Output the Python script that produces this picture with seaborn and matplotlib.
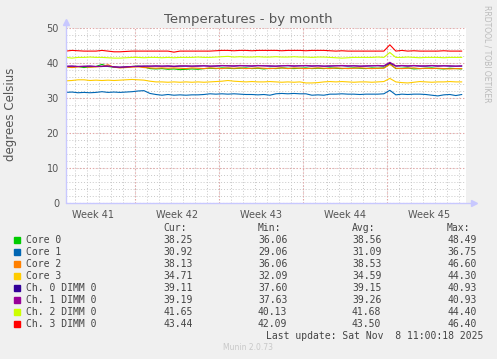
import numpy as np
import pandas as pd
import matplotlib
matplotlib.use("Agg")
import matplotlib.pyplot as plt
import seaborn as sns

# ---------------- data ----------------
series_names = ["Core 0", "Core 1", "Core 2", "Core 3",
                "Ch. 0 DIMM 0", "Ch. 1 DIMM 0", "Ch. 2 DIMM 0", "Ch. 3 DIMM 0"]
series_colors = ["#00CC00", "#0066B3", "#FF8000", "#FFCC00",
                 "#330099", "#990099", "#CCFF00", "#FF0000"]

# sample times in days relative to the start of week 42 (half-day steps)
t_start, t_step, n_pts = -5.75, 0.5, 67

core0 = [39.0, 38.8, 39.0, 38.7, 38.9, 39.0, 39.6, 39.0, 38.8, 38.7,
         38.8, 39.0, 39.1, 38.9, 38.4, 38.3, 38.4, 38.2, 38.3, 38.1,
         38.2, 38.3, 38.2, 38.4, 38.5, 38.4, 38.6, 38.5, 38.4, 38.5,
         38.6, 38.4, 38.5, 38.3, 38.5, 38.4, 38.6, 38.5, 38.4, 38.5,
         38.6, 38.4, 38.5, 38.4, 38.6, 38.5, 38.4, 38.5, 38.6, 38.5,
         38.4, 38.6, 38.5, 38.6, 39.8, 38.4, 38.5, 38.6, 38.3, 38.4,
         38.5, 38.6, 38.4, 38.3, 38.5, 38.4, 38.3]
core1 = [31.6, 31.7, 31.5, 31.6, 31.5, 31.6, 31.8, 31.6, 31.7, 31.6,
         31.7, 31.8, 32.0, 32.1, 31.3, 31.0, 30.8, 31.0, 30.8, 30.9,
         30.8, 30.9, 30.9, 31.0, 31.2, 31.1, 31.2, 31.1, 31.2, 31.1,
         31.0, 31.0, 30.9, 31.0, 30.8, 31.2, 31.3, 31.2, 31.3, 31.2,
         31.2, 30.8, 30.9, 30.8, 31.1, 31.1, 31.2, 31.1, 31.1, 31.0,
         31.1, 31.1, 31.1, 31.2, 32.2, 30.9, 31.1, 31.0, 31.1, 31.1,
         31.0, 30.8, 30.6, 30.9, 31.0, 30.7, 31.0]
core2 = [38.9, 38.7, 38.9, 39.0, 38.8, 38.9, 39.0, 39.5, 38.8, 38.6,
         38.7, 38.8, 38.9, 38.7, 38.6, 38.5, 38.6, 38.5, 38.6, 38.5,
         38.4, 38.6, 38.5, 38.4, 38.6, 38.5, 38.4, 38.6, 38.5, 38.6,
         38.4, 38.5, 38.6, 38.5, 38.4, 38.5, 38.6, 38.4, 38.6, 38.5,
         38.4, 38.5, 38.6, 38.5, 38.4, 38.6, 38.5, 38.4, 38.5, 38.6,
         38.5, 38.4, 38.5, 38.5, 39.6, 38.5, 38.4, 38.5, 38.6, 38.4,
         38.5, 38.4, 38.5, 38.4, 38.3, 38.4, 38.4]
core3 = [34.9, 35.0, 35.2, 35.2, 35.0, 35.1, 35.0, 35.1, 35.0, 35.1,
         35.2, 35.3, 35.2, 35.1, 34.8, 34.6, 34.6, 34.5, 34.6, 34.5,
         34.6, 34.5, 34.6, 34.5, 34.6, 34.7, 34.8, 35.0, 34.8, 34.7,
         34.6, 34.7, 34.6, 34.6, 34.7, 34.6, 34.5, 34.6, 34.5, 34.6,
         34.3, 34.3, 34.4, 34.6, 34.7, 34.6, 34.7, 34.6, 34.5, 34.6,
         34.6, 34.5, 34.6, 34.7, 35.6, 34.6, 34.4, 34.3, 34.5, 34.7,
         34.6, 34.5, 34.6, 34.6, 34.7, 34.6, 34.6]
ch0 = [39.0, 39.1, 39.0, 39.0, 39.1, 39.0, 39.0, 39.1, 38.9, 38.8,
       38.9, 39.0, 39.0, 39.1, 39.1, 39.1, 39.1, 39.1, 39.0, 39.1,
       39.1, 39.1, 39.1, 39.2, 39.1, 39.1, 39.2, 39.2, 39.1, 39.2,
       39.2, 39.1, 39.2, 39.2, 39.1, 39.1, 39.2, 39.2, 39.1, 39.2,
       39.2, 39.1, 39.2, 39.1, 39.1, 39.2, 39.2, 39.1, 39.2, 39.1,
       39.1, 39.2, 39.2, 39.1, 40.0, 39.1, 39.2, 39.1, 39.2, 39.1,
       39.1, 39.2, 39.1, 39.2, 39.1, 39.1, 39.1]
ch1 = [39.1, 39.1, 39.0, 39.1, 39.1, 39.0, 39.1, 39.1, 38.9, 38.8,
       38.9, 39.0, 39.1, 39.1, 39.1, 39.2, 39.1, 39.2, 39.1, 39.2,
       39.2, 39.1, 39.2, 39.2, 39.1, 39.2, 39.3, 39.2, 39.2, 39.3,
       39.2, 39.2, 39.3, 39.2, 39.2, 39.1, 39.2, 39.3, 39.2, 39.2,
       39.3, 39.2, 39.2, 39.1, 39.2, 39.2, 39.3, 39.2, 39.2, 39.1,
       39.2, 39.2, 39.3, 39.2, 40.2, 39.2, 39.3, 39.2, 39.3, 39.2,
       39.2, 39.3, 39.2, 39.2, 39.2, 39.1, 39.2]
ch2 = [41.6, 41.4, 41.6, 41.6, 41.7, 41.6, 41.6, 41.5, 41.4, 41.4,
       41.5, 41.6, 41.6, 41.5, 41.6, 41.6, 41.5, 41.6, 41.5, 41.6,
       41.6, 41.6, 41.7, 41.6, 41.6, 41.7, 41.8, 41.9, 41.7, 41.8,
       41.7, 41.7, 41.8, 41.7, 41.7, 41.8, 41.7, 41.7, 41.8, 41.7,
       41.7, 41.6, 41.7, 41.7, 41.6, 41.5, 41.4, 41.5, 41.6, 41.6,
       41.6, 41.6, 41.7, 41.6, 43.0, 41.6, 41.6, 41.7, 41.6, 41.5,
       41.6, 41.6, 41.6, 41.5, 41.6, 41.6, 41.6]
ch3 = [43.4, 43.6, 43.5, 43.4, 43.4, 43.4, 43.6, 43.4, 43.2, 43.2,
       43.3, 43.4, 43.4, 43.4, 43.4, 43.4, 43.4, 43.4, 43.1, 43.4,
       43.4, 43.4, 43.4, 43.4, 43.4, 43.5, 43.6, 43.6, 43.5, 43.6,
       43.6, 43.5, 43.6, 43.6, 43.6, 43.6, 43.5, 43.6, 43.6, 43.6,
       43.5, 43.6, 43.6, 43.6, 43.5, 43.4, 43.5, 43.4, 43.4, 43.4,
       43.4, 43.4, 43.4, 43.4, 45.2, 43.4, 43.6, 43.4, 43.5, 43.4,
       43.4, 43.4, 43.4, 43.5, 43.4, 43.4, 43.4]

cur_vals = ["38.25", "30.92", "38.13", "34.71", "39.11", "39.19", "41.65", "43.44"]
min_vals = ["36.06", "29.06", "36.06", "32.09", "37.60", "37.63", "40.13", "42.09"]
avg_vals = ["38.56", "31.09", "38.53", "34.59", "39.15", "39.26", "41.68", "43.50"]
max_vals = ["48.49", "36.75", "46.60", "44.30", "40.93", "40.93", "44.40", "46.40"]

week_labels = ["Week 41", "Week 42", "Week 43", "Week 44", "Week 45"]
week_label_pos = [-3.5, 3.5, 10.5, 17.5, 24.5]
y_ticks = [0, 10, 20, 30, 40, 50]

title = "Temperatures - by month"
ylabel = "degrees Celsius"
last_update = "Last update: Sat Nov  8 11:00:18 2025"
footer = "Munin 2.0.73"
side_text = "RRDTOOL / TOBI OETIKER"

# ---------------- build frame ----------------
times = t_start + t_step * np.arange(n_pts)
all_vals = [core0, core1, core2, core3, ch0, ch1, ch2, ch3]
df = pd.concat([pd.DataFrame({"t": times, "value": v, "series": n})
                for n, v in zip(series_names, all_vals)], ignore_index=True)

# ---------------- figure ----------------
sns.set_style("white")
plt.rcParams["font.family"] = ["DejaVu Sans"]
BG = "#F0F0F0"
W, H = 497, 359
fig = plt.figure(figsize=(W / 100, H / 100), dpi=100, facecolor=BG)
ax = fig.add_axes([66 / W, 1 - 203 / H, 400 / W, 175 / H])
ax.set_facecolor("white")

xmin, xmax = -5.75, 27.6
ax.set_xlim(xmin, xmax)
ax.set_ylim(0, 50)

# grid
minor_col = "#C8C8C8"
major_col = "#E8A0A0"
for d in range(-5, 28):
    ax.axvline(d, color=minor_col, lw=0.7, ls=(0, (1, 2)), zorder=0)
for y in range(0, 51, 2):
    ax.axhline(y, color=minor_col, lw=0.7, ls=(0, (1, 2)), zorder=0)
for d in [0, 7, 14, 21]:
    ax.axvline(d, color=major_col, lw=0.8, ls=(0, (1, 2)), zorder=0.5)
for y in y_ticks:
    ax.axhline(y, color=major_col, lw=0.8, ls=(0, (1, 2)), zorder=0.5)

sns.lineplot(data=df, x="t", y="value", hue="series", hue_order=series_names,
             palette=dict(zip(series_names, series_colors)), legend=False,
             lw=0.8, ax=ax, estimator=None, sort=False)

for s in ax.spines.values():
    s.set_visible(False)
ax.set_xlabel("")
ax.set_ylabel("")
ax.set_xticks(week_label_pos)
ax.set_xticklabels(week_labels, fontsize=7, color="#555555")
ax.set_yticks(y_ticks)
ax.set_yticklabels([str(v) for v in y_ticks], fontsize=7, color="#555555")
ax.tick_params(length=0, pad=5)

# axis arrows
axis_col = "#C8C8FF"
ax.plot([0, 0], [0, 1.03], transform=ax.transAxes, color=axis_col, lw=1, clip_on=False)
ax.plot([0, 1.015], [0, 0], transform=ax.transAxes, color=axis_col, lw=1, clip_on=False)
ax.plot([0], [1.035], transform=ax.transAxes, marker="^", ms=4, color=axis_col, clip_on=False)
ax.plot([1.02], [0], transform=ax.transAxes, marker=">", ms=4, color=axis_col, clip_on=False)

fig.text(248 / W, 1 - 19 / H, title, ha="center", va="center", fontsize=9.5, color="#555555")
fig.text(11 / W, 1 - 114 / H, ylabel, ha="center", va="center", rotation=90,
         fontsize=8.5, color="#555555")
fig.text(487 / W, 1 - 5 / H, side_text, ha="center", va="top", rotation=270,
         fontsize=5.5, color="#BBBBBB")

# legend table
mono = "DejaVu Sans Mono"
txt_col = "#444444"
def fy(py):
    return 1 - py / H

fig.text(163 / W, fy(228), "Cur:", family=mono, fontsize=7, color=txt_col, va="center")
fig.text(258 / W, fy(228), "Min:", family=mono, fontsize=7, color=txt_col, va="center")
fig.text(352 / W, fy(228), "Avg:", family=mono, fontsize=7, color=txt_col, va="center")
fig.text(447 / W, fy(228), "Max:", family=mono, fontsize=7, color=txt_col, va="center")
for i, (n, c) in enumerate(zip(series_names, series_colors)):
    py = 240 + 12 * i
    fig.patches.append(plt.Rectangle((14 / W, fy(py + 3)), 6 / W, 6 / H,
                                     transform=fig.transFigure, color=c, figure=fig))
    fig.text(26 / W, fy(py), n, family=mono, fontsize=7, color=txt_col, va="center")
    fig.text(163 / W, fy(py), cur_vals[i], family=mono, fontsize=7, color=txt_col, va="center")
    fig.text(258 / W, fy(py), min_vals[i], family=mono, fontsize=7, color=txt_col, va="center")
    fig.text(352 / W, fy(py), avg_vals[i], family=mono, fontsize=7, color=txt_col, va="center")
    fig.text(447 / W, fy(py), max_vals[i], family=mono, fontsize=7, color=txt_col, va="center")

fig.text(483 / W, fy(336), last_update, family=mono, fontsize=7, color=txt_col,
         ha="right", va="center")
fig.text(248 / W, fy(348), footer, fontsize=5.5, color="#C8C8C8", ha="center", va="center")

fig.savefig("out.png", dpi=100, facecolor=BG)
